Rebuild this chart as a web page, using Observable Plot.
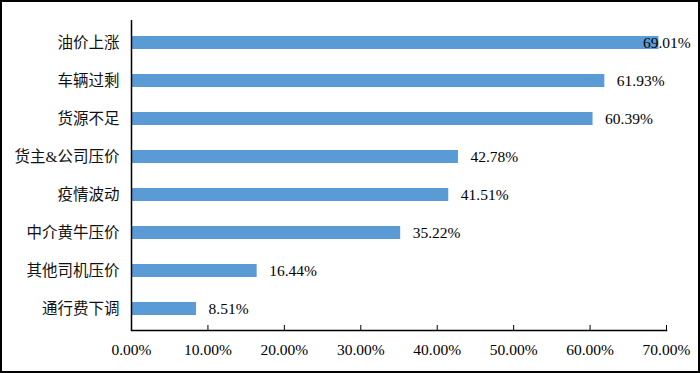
<!DOCTYPE html>
<html><head><meta charset="utf-8">
<script src="https://cdn.jsdelivr.net/npm/d3@7"></script>
<script src="https://cdn.jsdelivr.net/npm/@observablehq/plot@0.6"></script>
<style>
html,body{margin:0;padding:0;background:#fff;}
#wrap{width:700px;height:373px;box-sizing:border-box;border:2px solid #000;overflow:hidden;background:#fff;}
</style></head>
<body><div id="wrap"></div>
<script>
const categories = ["油价上涨","车辆过剩","货源不足","货主&公司压价","疫情波动","中介黄牛压价","其他司机压价","通行费下调"];
const values = [69.01, 61.93, 60.39, 42.78, 41.51, 35.22, 16.44, 8.51];
const xTicks = [0,10,20,30,40,50,60,70];
const data = categories.map((c,i)=>({cat:c, value:values[i]}));
const font = "'Liberation Serif', 'Noto Sans CJK SC', serif";
const chart = Plot.plot({
  width: 696, height: 369,
  marginLeft: 129, marginTop: 18, marginBottom: 41, marginRight: 32,
  style: {fontFamily: font, fontSize: "15px", color: "#000", background: "#fff"},
  x: {domain: [0,70]},
  y: {domain: categories, paddingInner: 0.66, paddingOuter: 0.33},
  marks: [
    Plot.barX(data, {x: "value", y: "cat", fill: "#5B9BD5"}),
    Plot.text(data.filter(d=>d.value<66), {x: "value", y: "cat", text: d=>d.value.toFixed(2)+"%", textAnchor: "start", dx: 12, fill: "#000", fontSize: 15.5}),
    Plot.text(data.filter(d=>d.value>=66), {x: "value", y: "cat", text: d=>d.value.toFixed(2)+"%", textAnchor: "start", dx: -16, fill: "#000", fontSize: 15.5}),
    Plot.axisY({tickSize: 0, tickPadding: 12, label: null, fontSize: 15.5, fill: "#111"}),
    Plot.axisX(xTicks, {tickSize: -5, tickPadding: 18, label: null, tickFormat: d=>d.toFixed(2)+"%", fontSize: 15.5, stroke: "#000", fill: "#000"}),
    Plot.ruleX([0], {stroke: "#000", strokeWidth: 1.5}),
    Plot.frame({anchor: "bottom", stroke: "#000", strokeWidth: 1.5})
  ]
});
document.getElementById("wrap").appendChild(chart);
</script></body></html>
